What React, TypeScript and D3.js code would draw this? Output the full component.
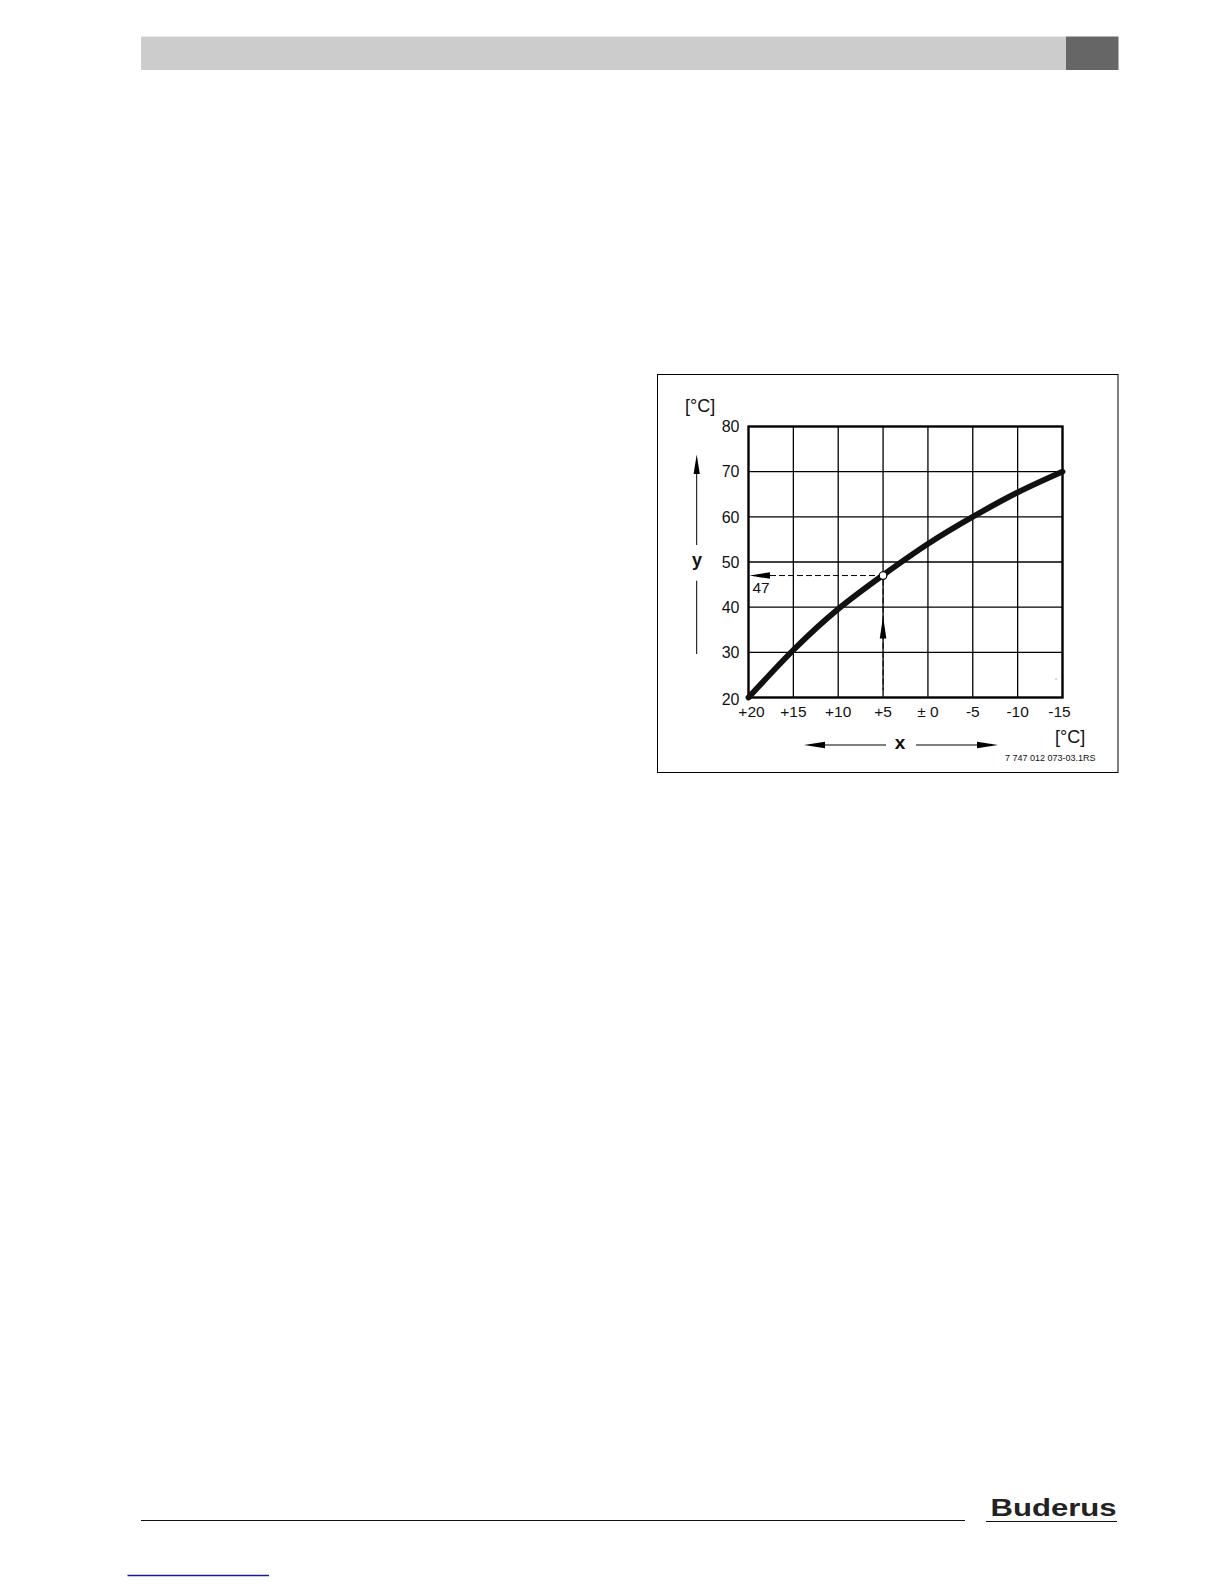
import React from "react";
import * as d3 from "d3";

const outdoorTemps = [20, 15, 10, 5, 0, -5, -10, -15];
const supplyTemps = [20, 30.5, 39.6, 47.1, 54, 60, 65.4, 70];
const xTickValues = [20, 15, 10, 5, 0, -5, -10, -15];
const xTickLabels = ["+20", "+15", "+10", "+5", "± 0", "-5", "-10", "-15"];
const yTickValues = [20, 30, 40, 50, 60, 70, 80];
const exampleX = 5;
const exampleY = 47;

const FONT = "'Liberation Sans', Arial, Helvetica, sans-serif";

export default function App() {
  const x = d3.scaleLinear().domain([20, -15]).range([748.5, 1062.5]);
  const y = d3.scaleLinear().domain([20, 80]).range([697.5, 426.5]);

  const pts: [number, number][] = outdoorTemps.map((t, i) => [x(t), y(supplyTemps[i])]);
  const line = d3.line<[number, number]>().x((d) => d[0]).y((d) => d[1]).curve(d3.curveNatural);

  const px = x(exampleX);
  const py = y(exampleY);
  const left = x(20);
  const right = x(-15);
  const top = y(80);
  const bottom = y(20);

  return (
    <svg
      width={1224}
      height={1584}
      style={{ position: "absolute", left: 0, top: 0, background: "#fff" }}
      fontFamily={FONT}
    >
      <rect x={0} y={0} width={1224} height={1584} fill="#fff" />
      {/* header bar */}
      <rect x={141} y={36.5} width={925} height={33.5} fill="#cccccc" />
      <rect x={1066} y={36.5} width={52.5} height={33.5} fill="#666666" />

      {/* figure box */}
      <rect x={657.5} y={374.5} width={460.5} height={398} fill="none" stroke="#000" strokeWidth={1} />

      {/* grid */}
      {xTickValues.slice(1, -1).map((t) => (
        <line key={"gx" + t} x1={x(t)} x2={x(t)} y1={top} y2={bottom} stroke="#000" strokeWidth={1.3} />
      ))}
      {yTickValues.slice(1, -1).map((v) => (
        <line key={"gy" + v} x1={left} x2={right} y1={y(v)} y2={y(v)} stroke="#000" strokeWidth={1.3} />
      ))}
      <rect x={left} y={top} width={right - left} height={bottom - top} fill="none" stroke="#000" strokeWidth={2.4} />

      {/* y tick labels */}
      {yTickValues.map((v) => (
        <text key={"yl" + v} x={739.5} y={y(v) + 5.8 + (v === 20 ? 1.5 : 0)} fontSize={16} textAnchor="end" fill="#111">
          {v}
        </text>
      ))}
      {/* x tick labels */}
      {xTickValues.map((t, i) => (
        <text
          key={"xl" + t}
          x={x(t) + (i === 0 ? 3 : i === xTickValues.length - 1 ? -3 : 0)}
          y={717.3}
          fontSize={15.5}
          textAnchor="middle"
          fill="#111"
        >
          {xTickLabels[i]}
        </text>
      ))}

      {/* curve */}
      <path d={line(pts) || ""} fill="none" stroke="#111" strokeWidth={5.8} strokeLinecap="round" />

      {/* example dashed lines */}
      <line x1={770} x2={px - 4} y1={py} y2={py} stroke="#000" strokeWidth={1} strokeDasharray="6,3" />
      <polygon points={`${left + 1},${py} ${770},${py - 3.3} ${770},${py + 3.3}`} fill="#000" />
      <line x1={px} x2={px} y1={py + 4} y2={690} stroke="#000" strokeWidth={1} strokeDasharray="6,3" />
      <polygon points={`${px},616.5 ${px - 3.3},638.5 ${px + 3.3},638.5`} fill="#000" />
      <circle cx={px} cy={py} r={3.8} fill="#fff" stroke="#000" strokeWidth={1.2} />
      <text x={752.5} y={593} fontSize={15.5} fill="#111">{exampleY}</text>

      {/* y axis label & arrow */}
      <text x={685} y={411.7} fontSize={18} fill="#111">[°C]</text>
      <line x1={696.7} x2={696.7} y1={470} y2={545} stroke="#000" strokeWidth={1} />
      <polygon points={`696.7,454.5 693.6,474 699.8,474`} fill="#000" />
      <text x={697} y={566} fontSize={18} fontWeight="bold" textAnchor="middle" fill="#111">y</text>
      <line x1={696.7} x2={696.7} y1={580.7} y2={654} stroke="#000" strokeWidth={1} />

      {/* x axis label & arrows */}
      <polygon points={`804,745 825,741.7 825,748.3`} fill="#000" />
      <line x1={822} x2={886} y1={745} y2={745} stroke="#000" strokeWidth={1} />
      <text x={900} y={749.3} fontSize={19} fontWeight="bold" textAnchor="middle" fill="#111">x</text>
      <line x1={916} x2={980} y1={745} y2={745} stroke="#000" strokeWidth={1} />
      <polygon points={`998,745 977,741.7 977,748.3`} fill="#000" />
      <text x={1055} y={742.5} fontSize={18} fill="#111">[°C]</text>
      <text x={1005} y={760.7} fontSize={9} fill="#111">7 747 012 073-03.1RS</text>
      <circle cx={1056} cy={679} r={0.6} fill="#555" />

      {/* footer */}
      <line x1={141} x2={965} y1={1520.5} y2={1520.5} stroke="#111" strokeWidth={1} />
      <text
        x={990.5}
        y={1515.5}
        fontSize={23}
        fontWeight="bold"
        fill="#222"
        textLength={126}
        lengthAdjust="spacingAndGlyphs"
      >
        Buderus
      </text>
      <line x1={986} x2={1117} y1={1521.5} y2={1521.5} stroke="#111" strokeWidth={1} />
      <line x1={127.5} x2={269} y1={1575.5} y2={1575.5} stroke="#1a1a99" strokeWidth={1.3} />
    </svg>
  );
}
